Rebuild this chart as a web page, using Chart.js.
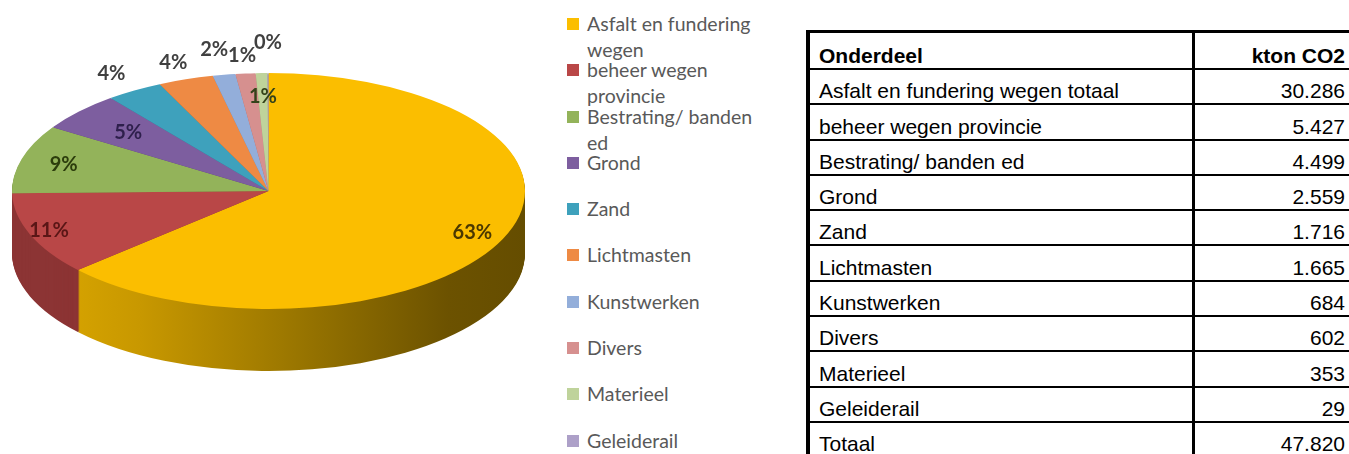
<!DOCTYPE html>
<html>
<head>
<meta charset="utf-8">
<script src="https://cdn.jsdelivr.net/npm/chart.js"></script>
<style>
    html, body { margin: 0; padding: 0; background: #fff; width: 1349px; height: 454px; overflow: hidden; }
    #pie { position: absolute; left: 0; top: 0; width: 560px; height: 454px; }
    #legend { position: absolute; left: 567px; top: 11px; font-family: Lato, sans-serif; font-size: 19.5px; color: #595959; }
    #legend .item { position: relative; height: 46.3px; line-height: 26px; padding-left: 20px; width: 188px; }
    #legend .box { position: absolute; left: 0; top: 7px; width: 12px; height: 12px; }
    #table { position: absolute; left: 806px; top: 30px; width: 560px; border-left: 4px solid #000; border-top: 3px solid #000;
             font-family: 'Liberation Sans', Arial, sans-serif; font-size: 21px; color: #000; }
    .row { display: flex; height: 33.3px; border-bottom: 2px solid #000; }
    .row.head { height: 35px; font-weight: bold; }
    .row div { display: flex; align-items: flex-end; white-space: nowrap; flex-shrink: 0; }
    .name { width: 373px; padding-left: 9px; border-right: 3px solid #000; }
    .val { width: 150px; padding-right: 4px; justify-content: flex-end; }
</style>
</head>
<body>
<div id="pie"><canvas id="pieCanvas"></canvas></div>
<div id="legend"></div>
<div id="table"></div>
<script>
var categories = ['Asfalt en fundering wegen', 'beheer wegen provincie', 'Bestrating/ banden ed', 'Grond', 'Zand',
    'Lichtmasten', 'Kunstwerken', 'Divers', 'Materieel', 'Geleiderail'];
var rowNames = ['Asfalt en fundering wegen totaal', 'beheer wegen provincie', 'Bestrating/ banden ed', 'Grond', 'Zand',
    'Lichtmasten', 'Kunstwerken', 'Divers', 'Materieel', 'Geleiderail'];
var ktonCO2 = [30286, 5427, 4499, 2559, 1716, 1665, 684, 602, 353, 29];
var pctLabels = ['63%', '11%', '9%', '5%', '4%', '4%', '2%', '1%', '1%', '0%'];

var sliceColors = ['#fbbe00', '#b94747', '#93b35a', '#7d5e9f', '#3ea1bc', '#ee8a44', '#93aeda', '#d6908f', '#bfd39b', '#ada0c8'];
var sideColors = [null, '#8c3434', '#6e8a40', '#5a4276', '#2c7a90', '#b86628', '#6d86ad', '#a86b6a', '#93a674', '#8479a0'];
var labelColors = ['#4a3800', '#5a1616', '#2c3d0c', '#2e1f4c', '#404040', '#404040', '#404040', '#404040', '#34421a', '#404040'];
// how far out (fraction of the radius) each percentage sits
var labelRadius = [0.87, 0.92, 0.83, 0.74, 1.17, 1.15, 1.22, 1.15, 0.8, 1.26];

// ellipse the pie is squashed into, plus the height of the rim
var CX = 268.5, CY = 191, RX = 256.5, RY = 118, DEPTH = 62;

function project(ctx, arc, drop) {
    ctx.translate(CX, CY + drop);
    ctx.scale(RX / arc.outerRadius, RY / arc.outerRadius);
    ctx.translate(-arc.x, -arc.y);
}

function drawArcWith(ctx, arc, fill) {
    var copy = Object.create(arc);
    copy.options = Object.assign({}, arc.options, { backgroundColor: fill, borderWidth: 0 });
    copy.draw(ctx);
}

var tiltPlugin = {
    id: 'tilt',
    beforeDatasetsDraw: function (chart) {
        var ctx = chart.ctx,
            arcs = chart.getDatasetMeta(0).data,
            r = arcs[0].outerRadius;

        var rim = ctx.createLinearGradient(arcs[0].x - r, 0, arcs[0].x + r, 0);
        rim.addColorStop(0, '#e0ab00');
        rim.addColorStop(0.25, '#c89800');
        rim.addColorStop(0.55, '#9a7600');
        rim.addColorStop(0.85, '#6c5200');
        rim.addColorStop(1, '#654d00');

        for (var d = DEPTH; d >= 1; d--) {
            ctx.save();
            project(ctx, arcs[0], d);
            arcs.forEach(function (arc, i) {
                drawArcWith(ctx, arc, i === 0 ? rim : sideColors[i]);
            });
            ctx.restore();
        }

        ctx.save();
        project(ctx, arcs[0], 0);
    },
    afterDatasetsDraw: function (chart) {
        var ctx = chart.ctx,
            arcs = chart.getDatasetMeta(0).data;

        ctx.restore();

        ctx.save();
        ctx.font = 'bold 20px Lato, sans-serif';
        ctx.textAlign = 'center';
        ctx.textBaseline = 'middle';
        arcs.forEach(function (arc, i) {
            var mid = (arc.startAngle + arc.endAngle) / 2,
                f = labelRadius[i];
            ctx.fillStyle = labelColors[i];
            ctx.fillText(pctLabels[i], CX + Math.cos(mid) * RX * f, CY + Math.sin(mid) * RY * f);
        });
        ctx.restore();
    }
};

var htmlLegend = {
    id: 'htmlLegend',
    afterUpdate: function (chart) {
        var box = document.getElementById('legend');
        box.innerHTML = '';
        chart.data.labels.forEach(function (label, i) {
            var item = document.createElement('div'),
                mark = document.createElement('span');
            item.className = 'item';
            mark.className = 'box';
            mark.style.background = chart.data.datasets[0].backgroundColor[i];
            item.appendChild(mark);
            item.appendChild(document.createTextNode(label));
            box.appendChild(item);
        });
    }
};

function fmt(n) {
    return String(n).replace(/\B(?=(\d{3})+(?!\d))/g, '.');
}

function addRow(table, name, value, cls) {
    var row = document.createElement('div'),
        a = document.createElement('div'),
        b = document.createElement('div');
    row.className = 'row' + (cls ? ' ' + cls : '');
    a.className = 'name';
    b.className = 'val';
    a.textContent = name;
    b.textContent = value;
    row.appendChild(a);
    row.appendChild(b);
    table.appendChild(row);
}

var table = document.getElementById('table');
addRow(table, 'Onderdeel', 'kton CO2', 'head');
rowNames.forEach(function (name, i) {
    addRow(table, name, fmt(ktonCO2[i]));
});
addRow(table, 'Totaal', fmt(ktonCO2.reduce(function (s, v) { return s + v; }, 0)));

var chart = new Chart(document.getElementById('pieCanvas'), {
    type: 'pie',
    data: {
        labels: categories,
        datasets: [{
            data: ktonCO2,
            backgroundColor: sliceColors,
            borderWidth: 0,
            clip: false
        }]
    },
    options: {
        responsive: true,
        maintainAspectRatio: false,
        animation: false,
        events: [],
        plugins: {
            legend: { display: false },
            tooltip: { enabled: false }
        }
    },
    plugins: [tiltPlugin, htmlLegend]
});
</script>
</body>
</html>
